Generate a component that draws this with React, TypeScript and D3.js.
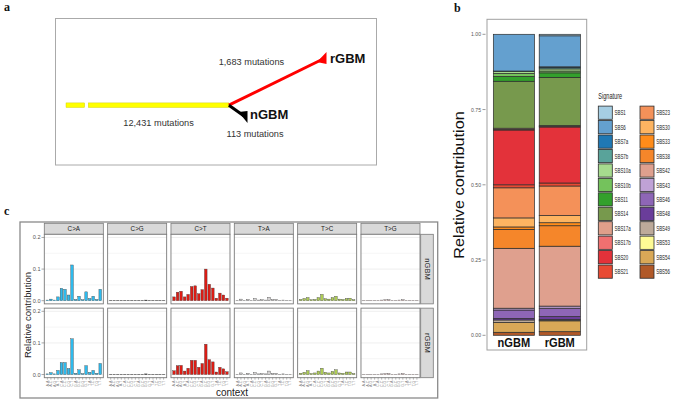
import React from 'react';
import * as d3 from 'd3';

const SANS = '"Liberation Sans", Arial, sans-serif';
const SERIF = '"Liberation Serif", "Times New Roman", serif';

// ---------- panel a: tree ----------
const trunkLabel = '12,431 mutations';
const nGBMLabel = '113 mutations';
const rGBMLabel = '1,683 mutations';
// schematic node positions in unit space
const treeNodes: Record<string, [number, number]> = {
  root: [0, 0.8],
  gapStart: [0.072, 0.8],
  gapEnd: [0.086, 0.8],
  split: [0.629, 0.8],
  nGBM: [0.695, 1],
  rGBM: [1, 0],
};

// ---------- panel b: signature contributions ----------
const signatures = ['SBS1', 'SBS6', 'SBS7a', 'SBS7b', 'SBS10a', 'SBS10b', 'SBS11', 'SBS14', 'SBS17a', 'SBS17b', 'SBS20', 'SBS21',
  'SBS23', 'SBS30', 'SBS33', 'SBS38', 'SBS42', 'SBS43', 'SBS46', 'SBS48', 'SBS49', 'SBS53', 'SBS54', 'SBS56'];
const sigColors = ['#A6CEE3', '#64A0CF', '#1F78B4', '#59A39A', '#A6DB8E', '#74C25C', '#33A02C', '#77994D', '#DF9F8A', '#F07070', '#E3323A', '#E84A33',
  '#F49159', '#FDB461', '#FF8C1A', '#F5862A', '#DFA08E', '#C0A2D6', '#8E66B6', '#6A3D9A', '#BDAA9A', '#FEFB95', '#D9A857', '#B15928'];
const nGBMSig = [0, 0.122, 0, 0.002, 0.006, 0.010, 0.016, 0.156, 0.004, 0.002, 0.182, 0.010,
  0.100, 0.030, 0.008, 0.063, 0.199, 0.006, 0.028, 0.005, 0.008, 0, 0.033, 0.010];
const rGBMSig = [0.005, 0.103, 0.003, 0.004, 0.007, 0.006, 0.015, 0.160, 0.003, 0.002, 0.186, 0.010,
  0.098, 0.024, 0.010, 0.068, 0.199, 0.007, 0.028, 0.009, 0.004, 0.001, 0.036, 0.012];
const samples = ['nGBM', 'rGBM'];
const bTicks = [0, 0.25, 0.5, 0.75, 1];

// ---------- panel c: 96 profile ----------
const substitutions = ['C>A', 'C>G', 'C>T', 'T>A', 'T>C', 'T>G'];
const subColors = ['#2EBAED', '#000000', '#DE1C14', '#D4D2D2', '#ADCC54', '#F0D0CE'];
const contexts = ['A.A', 'A.C', 'A.G', 'A.T', 'C.A', 'C.C', 'C.G', 'C.T', 'G.A', 'G.C', 'G.G', 'G.T', 'T.A', 'T.C', 'T.G', 'T.T'];
const nGBM_CA = [0.002, 0.005, 0.002, 0.012, 0.039, 0.036, 0.018, 0.113, 0.004, 0.014, 0.003, 0.028, 0.007, 0.014, 0.004, 0.036];
const nGBM_CG = [0.001, 0.001, 0.001, 0.001, 0.001, 0.001, 0.001, 0.001, 0.001, 0.001, 0.002, 0.001, 0.001, 0.001, 0.001, 0.001];
const nGBM_CT = [0.012, 0.027, 0.030, 0.012, 0.020, 0.045, 0.047, 0.022, 0.035, 0.100, 0.052, 0.040, 0.008, 0.024, 0.018, 0.008];
const nGBM_TA = [0.001, 0.005, 0.001, 0.004, 0.001, 0.007, 0.002, 0.003, 0.002, 0.011, 0.003, 0.004, 0.001, 0.002, 0.001, 0.001];
const nGBM_TC = [0.004, 0.007, 0.010, 0.003, 0.004, 0.010, 0.020, 0.006, 0.005, 0.010, 0.014, 0.005, 0.004, 0.007, 0.008, 0.003];
const nGBM_TG = [0.001, 0.001, 0.001, 0.001, 0.001, 0.002, 0.003, 0.003, 0.001, 0.001, 0.002, 0.003, 0.001, 0.001, 0.001, 0.001];
const rGBM_CA = [0.002, 0.006, 0.002, 0.013, 0.038, 0.038, 0.019, 0.113, 0.004, 0.015, 0.003, 0.028, 0.007, 0.013, 0.004, 0.035];
const rGBM_CG = [0.001, 0.001, 0.001, 0.001, 0.001, 0.001, 0.001, 0.001, 0.001, 0.001, 0.002, 0.001, 0.001, 0.001, 0.001, 0.001];
const rGBM_CT = [0.012, 0.028, 0.029, 0.011, 0.020, 0.045, 0.045, 0.023, 0.035, 0.096, 0.047, 0.040, 0.008, 0.023, 0.018, 0.009];
const rGBM_TA = [0.001, 0.005, 0.001, 0.004, 0.001, 0.006, 0.002, 0.003, 0.002, 0.011, 0.003, 0.004, 0.001, 0.002, 0.001, 0.001];
const rGBM_TC = [0.004, 0.007, 0.012, 0.003, 0.005, 0.011, 0.020, 0.007, 0.005, 0.010, 0.015, 0.005, 0.004, 0.008, 0.008, 0.003];
const rGBM_TG = [0.001, 0.001, 0.001, 0.001, 0.001, 0.002, 0.003, 0.003, 0.001, 0.001, 0.002, 0.003, 0.001, 0.001, 0.001, 0.001];
const profiles: Record<string, number[][]> = {
  nGBM: [nGBM_CA, nGBM_CG, nGBM_CT, nGBM_TA, nGBM_TC, nGBM_TG],
  rGBM: [rGBM_CA, rGBM_CG, rGBM_CT, rGBM_TA, rGBM_TC, rGBM_TG],
};
const cTicks = [0, 0.1, 0.2];
const cGrid = [0, 0.05, 0.1, 0.15, 0.2];

const PanelA = () => {
  const x = d3.scaleLinear().domain([0, 1]).range([66, 325]);
  const y = d3.scaleLinear().domain([0, 1]).range([58, 117]);
  const P = (k: string) => [x(treeNodes[k][0]), y(treeNodes[k][1])];
  const [rx, ry] = P('root');
  const [gx0] = P('gapStart');
  const [gx1] = P('gapEnd');
  const [sx, sy] = P('split');
  const [nx, ny] = P('nGBM');
  const [tx, ty] = P('rGBM');

  // flag-like arrow heads at the tips
  const head = (x0: number, y0: number, x1: number, y1: number, back: number, half: number) => {
    const len = Math.hypot(x1 - x0, y1 - y0);
    const ux = (x1 - x0) / len, uy = (y1 - y0) / len;
    const ax = x1 - ux * back, ay = y1 - uy * back;
    return `M${x1 + 1.5},${y1 - half}L${x1 + 1.5},${y1 + half}L${ax},${ay}Z`;
  };

  return (
    <g>
      <rect x={55.5} y={18.5} width={321} height={146.5} fill="white" stroke="#aaaaaa" strokeWidth={1} />
      <rect x={rx} y={ry - 2.3} width={gx0 - rx} height={4.6} fill="#FFFF00" stroke="#c8c800" strokeWidth={0.4} />
      <rect x={gx1} y={sy - 2.3} width={sx - gx1} height={4.6} fill="#FFFF00" stroke="#c8c800" strokeWidth={0.4} />
      <line x1={sx} y1={sy} x2={tx - 2} y2={ty + 1} stroke="#FF0000" strokeWidth={3} />
      <path d={head(sx, sy, tx, ty, 9, 6)} fill="#FF0000" />
      <line x1={sx} y1={sy} x2={nx - 2} y2={ny - 1} stroke="#000000" strokeWidth={3} />
      <path d={head(sx, sy, nx, ny, 9, 6)} fill="#000000" />
      <text x={tx + 5} y={ty + 4.7} fontFamily={SANS} fontWeight="bold" fontSize={13} fill="#111">rGBM</text>
      <text x={nx + 4} y={ny + 1.5} fontFamily={SANS} fontWeight="bold" fontSize={13} fill="#111">nGBM</text>
      <text x={(gx1 + sx) / 2} y={sy + 21} textAnchor="middle" fontFamily={SANS} fontSize={9.2} fill="#333">{trunkLabel}</text>
      <text x={nx + 9} y={ny + 19.5} textAnchor="middle" fontFamily={SANS} fontSize={9.2} fill="#333">{nGBMLabel}</text>
      <text x={sx + 22.5} y={sy - 40} textAnchor="middle" fontFamily={SANS} fontSize={9.2} fill="#333">{rGBMLabel}</text>
    </g>
  );
};

const PanelB = () => {
  const x = d3.scaleBand().domain(samples).range([487, 586.7]).paddingInner(0.103).paddingOuter(0.138);
  const y = d3.scaleLinear().domain([0, 1]).range([335.3, 34.3]);
  const rows = samples.map((s) => {
    const vals = s === 'nGBM' ? nGBMSig : rGBMSig;
    const r: any = { sample: s };
    signatures.forEach((k, i) => { r[k] = vals[i]; });
    return r;
  });
  const stacked = d3.stack().keys(signatures.slice().reverse())(rows);
  const colorOf = d3.scaleOrdinal<string, string>().domain(signatures).range(sigColors);
  const legendX = [598.3, 640];
  const rowH = 14.45;

  return (
    <g>
      <rect x={487} y={19.3} width={99.7} height={330.7} fill="white" stroke="#a0a0a0" strokeWidth={1} />
      {stacked.map((ser) => ser.map((d, j) => (
        d[1] - d[0] > 0 ? (
          <rect key={ser.key + j} x={x(samples[j])} y={y(d[1])} width={x.bandwidth()} height={y(d[0]) - y(d[1])}
            fill={colorOf(ser.key)} stroke="#2b2b2b" strokeWidth={0.7} />
        ) : null
      )))}
      {bTicks.map((t) => (
        <g key={t}>
          <line x1={482.5} x2={485.5} y1={y(t)} y2={y(t)} stroke="#555" strokeWidth={0.6} />
          <text x={481} y={y(t) + 2} textAnchor="end" fontFamily={SANS} fontSize={6} fill="#555"
            transform={`translate(481,0) scale(0.85,1) translate(-481,0)`}>{t.toFixed(2)}</text>
        </g>
      ))}
      {samples.map((s) => (
        <text key={s} x={x(s)! + x.bandwidth() / 2} y={347} textAnchor="middle" fontFamily={SANS} fontWeight="bold" fontSize={12.3} fill="#111"
          transform={`translate(${x(s)! + x.bandwidth() / 2},0) scale(0.9,1) translate(${-(x(s)! + x.bandwidth() / 2)},0)`}>{s}</text>
      ))}
      <text transform={`translate(464,185) scale(0.85,1) rotate(-90)`} textAnchor="middle" fontFamily={SANS} fontSize={16.3} fill="#111">Relative contribution</text>
      <text transform={`translate(598.3,99.3) scale(0.6,1)`} fontFamily={SANS} fontSize={9.3} fill="#222">Signature</text>
      {signatures.map((s, i) => {
        const col = Math.floor(i / 12);
        const r = i % 12;
        const cy = 112.7 + r * rowH;
        return (
          <g key={s}>
            <rect x={legendX[col]} y={cy - 6.6} width={14} height={13.2} fill={colorOf(s)} stroke="#2b2b2b" strokeWidth={0.8} />
            <text transform={`translate(${legendX[col] + 16.2},${cy + 2.6}) scale(0.6,1)`} fontFamily={SANS} fontSize={7.4} fill="#222">{s}</text>
          </g>
        );
      })}
    </g>
  );
};

const PanelC = () => {
  const px = d3.scaleBand().domain(substitutions).range([44.3, 420]).paddingInner(0.068);
  const py = d3.scaleBand().domain(samples).range([234.3, 377.7]).paddingInner(0.058);
  const bx = d3.scaleBand().domain(contexts).range([0, px.bandwidth()]).paddingInner(0.25).paddingOuter(0.5);
  const yOf = (s: string) => d3.scaleLinear().domain([-0.01, 0.21]).range([py(s)! + py.bandwidth(), py(s)!]);
  const bottom = py('rGBM')! + py.bandwidth();

  return (
    <g>
      <rect x={20} y={222} width={417.7} height={176} fill="white" stroke="#8a8a8a" strokeWidth={1.3} />
      {substitutions.map((sub, si) => (
        <g key={sub}>
          <rect x={px(sub)} y={223.3} width={px.bandwidth()} height={11} fill="#D9D9D9" stroke="#7a7a7a" strokeWidth={0.8} />
          <text x={px(sub)! + px.bandwidth() / 2} y={231.2} textAnchor="middle" fontFamily={SANS} fontSize={6.3} fill="#1a1a1a">{sub}</text>
          {samples.map((s) => {
            const y = yOf(s);
            return (
              <g key={s}>
                <rect x={px(sub)} y={py(s)} width={px.bandwidth()} height={py.bandwidth()} fill="white" />
                {cGrid.map((g) => (
                  <line key={g} x1={px(sub)} x2={px(sub)! + px.bandwidth()} y1={y(g)} y2={y(g)}
                    stroke="#EBEBEB" strokeWidth={g === 0.05 || g === 0.15 ? 0.5 : 0.8} />
                ))}
                {profiles[s][si].map((v, ci) => (
                  <rect key={ci} x={px(sub)! + bx(contexts[ci])!} y={y(v)} width={bx.bandwidth()} height={y(0) - y(v)}
                    fill={subColors[si]} stroke="#3a3a3a" strokeWidth={0.35} />
                ))}
                <rect x={px(sub)} y={py(s)} width={px.bandwidth()} height={py.bandwidth()} fill="none" stroke="#7a7a7a" strokeWidth={0.9} />
              </g>
            );
          })}
          {contexts.map((c) => {
            const cx = px(sub)! + bx(c)! + bx.bandwidth() / 2;
            return (
              <g key={c}>
                <line x1={cx} x2={cx} y1={bottom} y2={bottom + 2} stroke="#555" strokeWidth={0.4} />
                <text transform={`translate(${cx + 1.2},${bottom + 3}) rotate(-90)`} textAnchor="end" fontFamily={SANS} fontSize={3.6} fill="#888">{c}</text>
              </g>
            );
          })}
        </g>
      ))}
      {samples.map((s) => {
        const y = yOf(s);
        const cy = py(s)! + py.bandwidth() / 2;
        return (
          <g key={s}>
            {cTicks.map((t) => (
              <g key={t}>
                <line x1={41.5} x2={44.3} y1={y(t)} y2={y(t)} stroke="#555" strokeWidth={0.5} />
                <text x={40.5} y={y(t) + 2} textAnchor="end" fontFamily={SANS} fontSize={5.6} fill="#555">{t.toFixed(1)}</text>
              </g>
            ))}
            <rect x={420.7} y={py(s)} width={12.6} height={py.bandwidth()} fill="#D9D9D9" stroke="#7a7a7a" strokeWidth={0.8} />
            <text transform={`translate(424.5,${cy}) rotate(90)`} textAnchor="middle" fontFamily={SANS} fontSize={7.6} fill="#1a1a1a">{s}</text>
          </g>
        );
      })}
      <text transform={`translate(31,315) rotate(-90)`} textAnchor="middle" fontFamily={SANS} fontSize={9.5} fill="#222">Relative contribution</text>
      <text x={232} y={396} textAnchor="middle" fontFamily={SANS} fontSize={10} fill="#222">context</text>
    </g>
  );
};

export default function App() {
  return (
    <svg width={676} height={402} viewBox="0 0 676 402" style={{ position: 'absolute', left: 0, top: 0, background: 'white' }}>
      <rect width={676} height={402} fill="white" />
      <text x={4} y={11} fontFamily={SERIF} fontWeight="bold" fontSize={12} fill="#111">a</text>
      <text x={454} y={12} fontFamily={SERIF} fontWeight="bold" fontSize={12} fill="#111">b</text>
      <text x={4} y={215} fontFamily={SERIF} fontWeight="bold" fontSize={12} fill="#111">c</text>
      <PanelA />
      <PanelB />
      <PanelC />
    </svg>
  );
}
